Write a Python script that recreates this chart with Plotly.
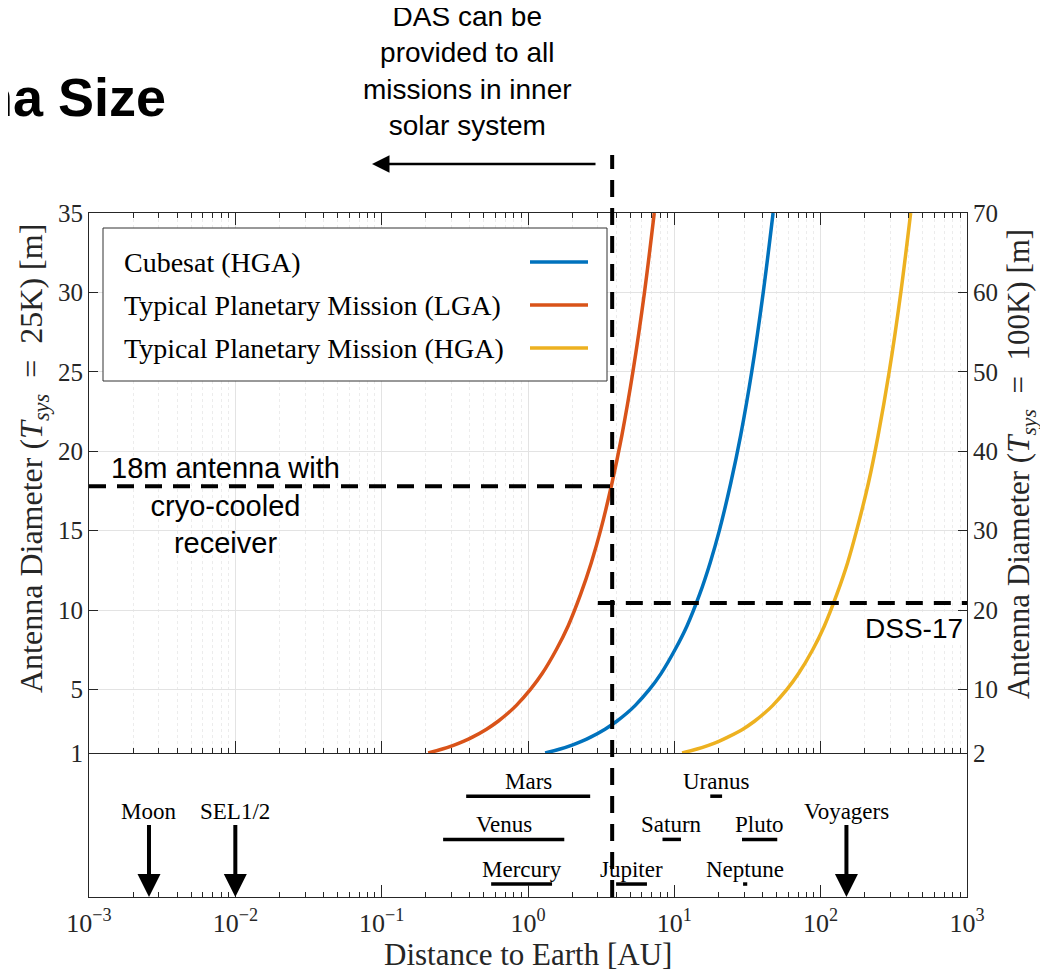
import math
import plotly.graph_objects as go

# ---------------- data ----------------
diam_m = [1, 1.25, 1.5, 1.75, 2, 2.5, 3, 3.5, 4, 5, 6, 7.5, 9, 11, 13, 15, 18, 21, 25, 30, 35]
dist_cubesat_hga = [1.31, 1.66, 2.0, 2.34, 2.68, 3.36, 4.04, 4.73, 5.41, 6.76, 8.11, 10.1, 12.2,
                    14.9, 17.6, 20.3, 24.3, 28.4, 33.8, 40.5, 47.3]
dist_planetary_lga = [0.208, 0.26, 0.3125, 0.365, 0.417, 0.521, 0.625, 0.729, 0.833, 1.04, 1.25,
                      1.56, 1.88, 2.29, 2.71, 3.13, 3.75, 4.38, 5.21, 6.25, 7.29]
dist_planetary_hga = [11.3, 14.3, 17.3, 20.3, 23.2, 29.4, 35.3, 41.2, 47.1, 58.8, 70.6, 88.2, 106,
                      129, 153, 176, 212, 247, 294, 353, 412]

series_names = ["Cubesat (HGA)", "Typical Planetary Mission (LGA)", "Typical Planetary Mission (HGA)"]
series_dists = [dist_cubesat_hga, dist_planetary_lga, dist_planetary_hga]
series_colors = ["#0072BD", "#D95319", "#EDB120"]

inner_limit_au = 3.76
cryo_18m_diam = 17.8
dss17_diam = 10.45
dss17_start_au = 3.0

planet_names = ["Mercury", "Venus", "Mars", "Jupiter", "Saturn", "Uranus", "Neptune", "Pluto"]
planet_min_au = [0.56, 0.263, 0.378, 4.0, 8.3, 17.6, 29.5, 29.0]
planet_max_au = [1.46, 1.77, 2.66, 6.5, 11.1, 21.2, 31.5, 50.5]
planet_row = [0.09, 0.40, 0.70, 0.09, 0.40, 0.70, 0.09, 0.40]

marker_names = ["Moon", "SEL1/2", "Voyagers"]
marker_au = [0.00257, 0.01, 150]

x_tick_vals = [1e-3, 1e-2, 1e-1, 1e0, 1e1, 1e2, 1e3]
x_tick_text = ["10<sup>\u22123</sup>", "10<sup>\u22122</sup>", "10<sup>\u22121</sup>",
               "10<sup>0</sup>", "10<sup>1</sup>", "10<sup>2</sup>", "10<sup>3</sup>"]
left_ticks = [1, 5, 10, 15, 20, 25, 30, 35]
right_ticks = [2, 10, 20, 30, 40, 50, 60, 70]

# minor tick positions of the log axis (2..9 in each decade)
x_minor_vals = [m * 10.0 ** e for e in range(-3, 3) for m in range(2, 10)]

# ---------------- style ----------------
SERIF = "Liberation Serif, Times New Roman, serif"
SANS = "Liberation Sans, Arial, sans-serif"
AX = "#262626"
GRID = "#e3e3e3"
MINOR_GRID = "#ececec"
DASH = "17px,11px"

fig = go.Figure()

for name, d, c in zip(series_names, series_dists, series_colors):
    fig.add_trace(go.Scatter(x=d, y=diam_m, mode="lines", name=name,
                             line=dict(color=c, width=3.5, shape="spline"),
                             xaxis="x", yaxis="y", showlegend=False))

# 18 m cryo-cooled line
fig.add_trace(go.Scatter(x=[1e-3, inner_limit_au], y=[cryo_18m_diam, cryo_18m_diam], mode="lines",
                         line=dict(color="black", width=4, dash=DASH), xaxis="x", yaxis="y",
                         showlegend=False))
# DSS-17 line
fig.add_trace(go.Scatter(x=[dss17_start_au, 1e3], y=[dss17_diam, dss17_diam], mode="lines",
                         line=dict(color="black", width=4, dash=DASH), xaxis="x", yaxis="y",
                         showlegend=False))

# planets bars
for name, lo, hi, row in zip(planet_names, planet_min_au, planet_max_au, planet_row):
    fig.add_trace(go.Scatter(x=[lo, hi], y=[row, row], mode="lines",
                             line=dict(color="black", width=3.5), xaxis="x2", yaxis="y2",
                             showlegend=False))

# dummy trace for right axis
fig.add_trace(go.Scatter(x=[1e-3], y=[2], mode="markers", marker=dict(opacity=0),
                         xaxis="x", yaxis="y3", showlegend=False, hoverinfo="skip"))

annotations = []
for name, lo, hi, row in zip(planet_names, planet_min_au, planet_max_au, planet_row):
    annotations.append(dict(x=math.log10(math.sqrt(lo * hi)), y=row, xref="x2", yref="y2",
                            xanchor="center", yanchor="middle",
                            text=name, showarrow=False, yshift=15,
                            font=dict(family=SERIF, size=23, color="black")))
for name, v in zip(marker_names, marker_au):
    annotations.append(dict(x=math.log10(v), y=0, xref="x2", yref="y2", text=name,
                            showarrow=True, ax=0, ay=-86, arrowhead=2, arrowwidth=4,
                            arrowsize=1.15, arrowcolor="black", standoff=0,
                            font=dict(family=SERIF, size=23, color="black")))

H = 684.0
W = 878.0
def px(xp):
    return (xp - 89) / W
def py(yp):
    return (897 - yp) / H

def note(xp, yp, text, font, xanchor="center", **kw):
    d = dict(x=px(xp), y=py(yp), xref="paper", yref="paper", text=text, showarrow=False,
             xanchor=xanchor, yanchor="middle", font=font)
    d.update(kw)
    annotations.append(d)

# top arrow
annotations.append(dict(x=px(372), y=py(164), xref="paper", yref="paper", text="",
                        showarrow=True, ax=225, ay=0, arrowhead=2, arrowwidth=2.5,
                        arrowsize=1.4, arrowcolor="black"))
note(467, 71, "DAS can be<br>provided to all<br>missions in inner<br>solar system",
     dict(family=SANS, size=28, color="black"))
note(168, 97, "<b>na Size</b>", dict(family=SANS, size=54, color="black"), xanchor="right")
note(225, 505, "18m antenna with<br>cryo-cooled<br>receiver", dict(family=SANS, size=29, color="black"))
note(964, 628, "DSS-17", dict(family=SANS, size=28, color="black"), xanchor="right",
     bgcolor="white", borderpad=0)

# axis titles
note(528, 954, "Distance to Earth [AU]", dict(family=SERIF, size=31, color=AX))
note(33, 459, "Antenna Diameter (<i>T<sub>sys</sub></i>&nbsp; = &nbsp;25K) [m]",
     dict(family=SERIF, size=32, color=AX), textangle=-90)
note(1021, 464, "Antenna Diameter (<i>T<sub>sys</sub></i>&nbsp; = &nbsp;100K) [m]",
     dict(family=SERIF, size=31, color=AX), textangle=-90)

# manual legend
shapes = []
shapes.append(dict(type="rect", xref="paper", yref="paper", x0=px(103), x1=px(607),
                   y0=py(381), y1=py(228), fillcolor="white", line=dict(color="#333333", width=1),
                   layer="above"))
for i, (name, c) in enumerate(zip(series_names, series_colors)):
    yy = [262, 305, 348][i]
    note(122, yy, name, dict(family=SERIF, size=28, color="black"), xanchor="left")
    shapes.append(dict(type="line", xref="paper", yref="paper", x0=px(530), x1=px(588),
                       y0=py(yy), y1=py(yy), line=dict(color=c, width=3.5), layer="above"))

# vertical dashed line (spans both panels)
shapes.append(dict(type="line", xref="x", yref="paper", x0=inner_limit_au, x1=inner_limit_au,
                   y0=0, y1=py(155), line=dict(color="black", width=4, dash=DASH), layer="above"))

split = (897 - 753) / H

common_x = dict(type="log", range=[-3, 3], tickmode="array", tickvals=x_tick_vals,
                ticktext=x_tick_text,
                showline=True, linecolor=AX, linewidth=1, ticks="inside", ticklen=12,
                tickcolor=AX)

# the page body adds an 8px offset, so the figure is 8px smaller than the window
fig.update_layout(
    width=1040, height=963,
    margin=dict(l=81, r=81, t=205, b=74),
    paper_bgcolor="white", plot_bgcolor="white",
    showlegend=False,
    xaxis=dict(common_x, anchor="y", showticklabels=False, mirror="ticks",
               showgrid=True, gridcolor=GRID, gridwidth=1,
               minor=dict(ticks="inside", ticklen=5, tickmode="array", tickvals=x_minor_vals,
                          tickcolor=AX, showgrid=True, gridcolor=MINOR_GRID, griddash="dot")),
    xaxis2=dict(common_x, anchor="y2", matches="x", showgrid=False,
                minor=dict(ticks="inside", ticklen=5, tickmode="array", tickvals=x_minor_vals,
                           tickcolor=AX, showgrid=False),
                tickfont=dict(family=SERIF, size=26, color=AX), ticklabelstandoff=3),
    yaxis=dict(domain=[split, 1], range=[1, 35], tickvals=left_ticks, anchor="x",
               showline=True, linecolor=AX, ticks="inside", ticklen=9, tickcolor=AX,
               showgrid=True, gridcolor=GRID, zeroline=False,
               tickfont=dict(family=SERIF, size=25, color=AX)),
    yaxis3=dict(range=[2, 70], tickvals=right_ticks, overlaying="y", side="right", anchor="x",
                showline=True, linecolor=AX, ticks="inside", ticklen=9, tickcolor=AX,
                showgrid=False, zeroline=False,
                tickfont=dict(family=SERIF, size=25, color=AX)),
    yaxis2=dict(domain=[0, split], range=[0, 1], anchor="x2", showline=True, mirror=True,
                linecolor=AX, ticks="", showticklabels=False, showgrid=False, zeroline=False),
    annotations=annotations,
    shapes=shapes,
)

fig.write_html("out.html")
